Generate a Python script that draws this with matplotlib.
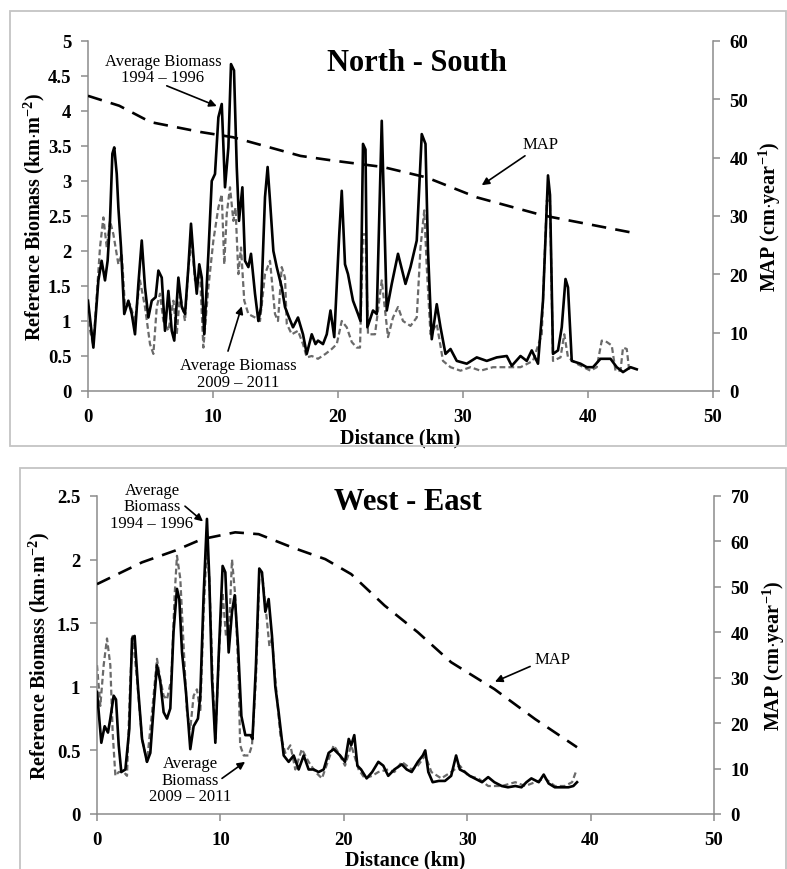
import matplotlib
matplotlib.use("Agg")
import matplotlib.pyplot as plt
from matplotlib.patches import Rectangle

plt.rcParams['font.family'] = ['Liberation Serif', 'DejaVu Serif']
plt.rcParams['mathtext.fontset'] = 'custom'
plt.rcParams['mathtext.rm'] = 'Liberation Serif'
plt.rcParams['mathtext.bf'] = 'Liberation Serif:bold'

# North - South transect
ns_dist_old = [0, 0.43, 0.83, 1.09, 1.36, 1.57, 1.76, 1.95, 2.1, 2.3,
               2.43, 2.64, 2.9, 3.23, 3.5, 3.76, 4.03, 4.3, 4.56, 4.83,
               5.1, 5.41, 5.63, 5.9, 6.16, 6.43, 6.7, 6.9, 7.23, 7.5,
               7.76, 8.03, 8.24, 8.5, 8.7, 8.9, 9.1, 9.3, 9.63, 9.9,
               10.16, 10.43, 10.7, 10.96, 11.23, 11.44, 11.68, 11.9, 12.08, 12.35,
               12.56, 12.83, 13.04, 13.36, 13.63, 13.84, 14.16, 14.37, 14.56, 14.83,
               15.1, 15.5, 15.76, 16.08, 16.4, 16.8, 17.2, 17.5, 17.9, 18.2,
               18.4, 18.8, 19.1, 19.4, 19.7, 20.1, 20.3, 20.56, 20.8, 21.2,
               21.6, 21.8, 22.0, 22.2, 22.35, 22.8, 23.1, 23.5, 23.9, 24.3,
               24.8, 25.4, 25.8, 26.3, 26.7, 27.0, 27.2, 27.5, 27.9, 28.2,
               28.6, 29.0, 29.5, 30.3, 31.1, 31.9, 32.7, 33.5, 33.9, 34.6,
               35.1, 35.5, 36.0, 36.4, 36.8, 36.96, 37.2, 37.6, 37.9, 38.2,
               38.4, 38.7, 39.4, 39.9, 40.4, 41.0, 41.8, 42.3, 42.8, 43.4,
               43.9]
ns_bio_old = [1.29, 0.62, 1.58, 1.86, 1.58, 1.86, 2.43, 3.39, 3.48, 3.1,
              2.62, 2.05, 1.1, 1.29, 1.1, 0.81, 1.53, 2.15, 1.48, 1.05,
              1.29, 1.34, 1.72, 1.62, 0.86, 1.43, 0.86, 0.72, 1.62, 1.2,
              1.1, 1.77, 2.39, 1.77, 1.39, 1.81, 1.62, 0.81, 1.96, 3.0,
              3.1, 3.91, 4.1, 2.91, 3.48, 4.67, 4.58, 3.2, 2.43, 2.91,
              1.86, 1.77, 1.96, 1.39, 1.0, 1.2, 2.77, 3.2, 2.72, 2.0,
              1.77, 1.48, 1.2, 1.05, 0.91, 1.05, 0.81, 0.53, 0.81, 0.67,
              0.72, 0.67, 0.81, 1.15, 0.77, 2.24, 2.86, 1.81, 1.67, 1.29,
              1.1, 1.0, 3.53, 3.45, 0.91, 1.15, 1.1, 3.86, 1.15, 1.53,
              1.96, 1.53, 1.77, 2.15, 3.67, 3.53, 2.0, 0.74, 1.24, 0.91,
              0.53, 0.6, 0.43, 0.39, 0.48, 0.43, 0.48, 0.5, 0.36, 0.5,
              0.43, 0.58, 0.39, 1.29, 3.08, 2.8, 0.53, 0.58, 0.91, 1.6,
              1.48, 0.43, 0.39, 0.34, 0.34, 0.46, 0.46, 0.34, 0.27, 0.34,
              0.31]

ns_dist_new = [0, 0.43, 0.96, 1.23, 1.5, 1.76, 2.03, 2.43, 2.7, 2.96,
               3.36, 3.76, 4.16, 4.56, 4.96, 5.23, 5.5, 5.76, 6.03, 6.43,
               6.83, 7.1, 7.36, 7.76, 8.03, 8.3, 8.56, 8.96, 9.23, 9.63,
               10.03, 10.43, 10.7, 10.9, 11.1, 11.36, 11.63, 11.8, 12.03, 12.24,
               12.5, 12.83, 13.36, 13.76, 14.16, 14.56, 14.96, 15.2, 15.5, 15.76,
               15.9, 16.3, 16.8, 17.2, 17.5, 17.9, 18.4, 19.0, 19.5, 19.9,
               20.3, 20.7, 21.1, 21.5, 21.76, 22.0, 22.2, 22.4, 22.96, 23.5,
               24.0, 24.4, 24.8, 25.2, 25.8, 26.3, 26.6, 26.9, 27.1, 27.4,
               27.9, 28.4, 29.0, 29.8, 30.6, 31.4, 32.4, 33.5, 34.6, 35.6,
               36.3, 36.7, 36.96, 37.2, 37.8, 38.1, 38.4, 39.1, 40.2, 40.7,
               41.1, 41.5, 41.9, 42.2, 42.6, 42.8, 43.1, 43.3]
ns_bio_new = [1.0, 0.65, 2.05, 2.48, 2.05, 2.43, 2.24, 1.81, 1.96, 1.2,
              1.24, 1.0, 1.58, 1.2, 0.67, 0.53, 1.2, 1.39, 1.0, 0.86,
              1.29, 0.81, 1.39, 1.0, 1.77, 2.15, 1.58, 1.67, 0.62, 1.48,
              2.15, 2.62, 2.81, 1.81, 2.53, 2.91, 2.43, 2.62, 1.67, 2.05,
              1.29, 1.1, 1.05, 1.0, 1.67, 1.86, 1.1, 1.0, 1.77, 1.62,
              0.96, 0.81, 0.86, 0.67, 0.48, 0.5, 0.46, 0.53, 0.6, 0.67,
              1.0, 0.91, 0.7, 0.62, 0.62, 2.24, 2.24, 0.81, 0.81, 1.58,
              0.77, 1.05, 1.2, 1.0, 0.93, 1.05, 2.05, 2.58, 1.77, 0.81,
              0.96, 0.43, 0.34, 0.29, 0.34, 0.29, 0.34, 0.34, 0.34, 0.43,
              0.81, 2.72, 2.72, 0.43, 0.48, 0.81, 0.48, 0.39, 0.29, 0.34,
              0.72, 0.7, 0.65, 0.29, 0.29, 0.62, 0.6, 0.29]

ns_map_dist = [0, 2.5, 5, 9, 11.6, 17, 19.6, 23.6, 27.1, 31.1, 36.4, 43.4]
ns_map = [50.6, 48.9, 46.1, 44.4, 43.5, 40.3, 39.5, 38.4, 36.6, 33.2, 30.1, 27.2]

# West - East transect
we_dist_old = [0, 0.35, 0.62, 0.89, 1.08, 1.35, 1.54, 1.76, 1.97, 2.3,
               2.62, 2.84, 3.05, 3.32, 3.65, 4.05, 4.32, 4.6, 4.86, 5.13,
               5.4, 5.67, 5.94, 6.2, 6.48, 6.67, 6.89, 7.21, 7.56, 7.83,
               8.18, 8.37, 8.64, 8.91, 9.1, 9.32, 9.59, 9.86, 10.18, 10.4,
               10.67, 10.94, 11.16, 11.43, 11.7, 12.02, 12.43, 12.6, 12.88, 13.15,
               13.37, 13.64, 13.91, 14.18, 14.45, 14.72, 15.13, 15.53, 15.94, 16.34,
               16.75, 17.15, 17.56, 17.96, 18.37, 18.77, 19.18, 19.7, 20.1, 20.4,
               20.6, 20.85, 21.1, 21.4, 21.85, 22.3, 22.8, 23.2, 23.6, 24.1,
               24.7, 25.1, 25.5, 26.0, 26.4, 26.6, 26.85, 27.2, 27.7, 28.2,
               28.7, 29.1, 29.4, 29.8, 30.2, 30.6, 31.2, 31.7, 32.2, 32.8,
               33.3, 33.9, 34.4, 34.8, 35.2, 35.8, 36.2, 36.6, 37.1, 37.7,
               38.2, 38.6, 38.9]
we_bio_old = [0.96, 0.56, 0.69, 0.64, 0.75, 0.93, 0.9, 0.54, 0.33, 0.35,
              0.67, 1.38, 1.4, 1.0, 0.59, 0.41, 0.48, 0.85, 1.17, 1.04,
              0.8, 0.75, 0.83, 1.43, 1.77, 1.69, 1.27, 0.96, 0.51, 0.69,
              0.75, 0.93, 1.72, 2.32, 1.85, 1.06, 0.56, 1.24, 1.95, 1.9,
              1.27, 1.59, 1.72, 1.32, 0.77, 0.62, 0.62, 0.59, 1.17, 1.93,
              1.9, 1.59, 1.69, 1.4, 1.0, 0.8, 0.46, 0.41, 0.46, 0.35,
              0.46, 0.35, 0.35, 0.33, 0.35, 0.48, 0.51, 0.46, 0.41, 0.59,
              0.54, 0.62, 0.38, 0.35, 0.28, 0.33, 0.41, 0.38, 0.3, 0.35,
              0.39, 0.35, 0.33, 0.41, 0.46, 0.5, 0.33, 0.25, 0.26, 0.26,
              0.3, 0.46, 0.35, 0.33, 0.3, 0.28, 0.25, 0.29, 0.25, 0.22,
              0.21, 0.22, 0.21, 0.25, 0.28, 0.25, 0.31, 0.24, 0.21, 0.21,
              0.21, 0.22, 0.25]

we_dist_new = [0, 0.27, 0.54, 0.81, 1.08, 1.27, 1.49, 1.76, 2.16, 2.43,
               2.7, 2.89, 3.24, 3.65, 4.05, 4.46, 4.86, 5.13, 5.4, 5.67,
               6.02, 6.29, 6.48, 6.75, 7.02, 7.29, 7.56, 7.83, 8.1, 8.37,
               8.64, 8.91, 9.1, 9.37, 9.59, 9.91, 10.18, 10.45, 10.67, 10.94,
               11.2, 11.48, 11.6, 11.89, 12.3, 12.56, 12.88, 13.15, 13.42, 13.7,
               13.97, 14.18, 14.45, 14.86, 15.26, 15.67, 16.07, 16.6, 17.15, 17.7,
               18.23, 18.77, 19.18, 19.58, 20.1, 20.6, 21.2, 21.7, 22.3, 22.8,
               23.6, 24.1, 24.7, 25.5, 26.0, 26.6, 27.1, 27.9, 28.7, 29.4,
               30.1, 30.9, 31.7, 32.8, 33.9, 34.7, 35.5, 36.3, 37.1, 37.9,
               38.5, 38.8]
we_bio_new = [1.17, 0.85, 1.17, 1.38, 1.17, 0.64, 0.3, 0.33, 0.33, 0.3,
              1.06, 1.4, 1.06, 0.59, 0.41, 0.8, 1.22, 1.06, 0.93, 0.9,
              1.06, 1.72, 2.03, 1.85, 1.32, 0.8, 0.67, 0.93, 0.98, 0.8,
              1.59, 2.11, 1.85, 1.06, 0.59, 1.32, 1.74, 1.4, 1.38, 2.0,
              1.72, 1.06, 0.54, 0.46, 0.46, 0.54, 1.06, 1.85, 1.85, 1.59,
              1.32, 1.38, 1.06, 0.62, 0.48, 0.54, 0.35, 0.51, 0.41, 0.33,
              0.28, 0.43, 0.54, 0.48, 0.38, 0.54, 0.35, 0.28, 0.3, 0.33,
              0.35, 0.33, 0.41, 0.35, 0.38, 0.46, 0.33, 0.28, 0.33, 0.38,
              0.3, 0.28, 0.22, 0.22, 0.25, 0.22, 0.25, 0.28, 0.22, 0.22,
              0.25, 0.33]

we_map_dist = [0, 3.65, 6.35, 8.5, 11.2, 13.1, 15.8, 18.5, 20.6, 23.3, 26.0, 28.7, 32.2, 35.5, 38.9]
we_map = [50.6, 55.4, 58.0, 60.5, 62.0, 61.6, 58.7, 56.1, 52.8, 45.9, 40.0, 33.4, 27.5, 20.9, 14.7]

x_ticks = [0, 10, 20, 30, 40, 50]
GRAY = '#8c8c8c'
W, H = 787, 870

fig = plt.figure(figsize=(7.87, 8.70), dpi=100)

# light frames around each chart
fig.patches.append(Rectangle((10 / W, 1 - 447 / H), 776 / W, 435 / H, transform=fig.transFigure,
                             fill=False, ec='#c4c4c4', lw=1.3))
fig.patches.append(Rectangle((20 / W, -0.02), 766 / W, 1 - 469 / H + 0.02, transform=fig.transFigure,
                             fill=False, ec='#c4c4c4', lw=1.3))


def panel(rect, d_old, b_old, d_new, b_new, d_map, v_map, ymax, map_max, yticks, ylab_x, rlab_x, xlab_y):
    ax = fig.add_axes(rect)
    ax2 = ax.twinx()
    ax.plot(d_new, b_new, color='#6a6a6a', lw=1.6, ls=(0, (2.6, 1.4)), zorder=2)
    ax.plot(d_old, b_old, color='black', lw=1.9, zorder=3)
    ax2.plot(d_map, v_map, color='black', lw=1.9, ls=(0, (5.5, 3.5)))
    ax.set_xlim(0, 50)
    ax.set_ylim(0, ymax)
    ax2.set_ylim(0, map_max)
    ax.set_xticks(x_ticks)
    ax.set_yticks(yticks)
    ax.set_yticklabels([('%g' % t) for t in yticks])
    ax2.set_yticks(range(0, map_max + 1, 10))
    for a in (ax, ax2):
        a.set_facecolor('none')
        for s in a.spines.values():
            s.set_color(GRAY)
            s.set_linewidth(1.1)
        a.spines['top'].set_visible(False)
        a.tick_params(colors=GRAY, labelcolor='black', length=5, width=1.1, labelsize=13.5, pad=7)
        for lab in a.get_xticklabels() + a.get_yticklabels():
            lab.set_fontweight('bold')
    ax.spines['right'].set_visible(False)
    ax2.spines['left'].set_visible(False)
    ax2.spines['bottom'].set_visible(False)
    ax.set_xlabel('Distance (km)', fontsize=14.5, fontweight='bold')
    ax.xaxis.set_label_coords(0.5, xlab_y)
    ax.set_ylabel(r'Reference Biomass (km$\cdot$m$^{\mathbf{-2}}$)', fontsize=14.5, fontweight='bold')
    ax.yaxis.set_label_coords(ylab_x, 0.5)
    ax2.set_ylabel(r'MAP (cm$\cdot$year$^{\mathbf{-1}}$)', fontsize=14.5, fontweight='bold',
                   rotation=90, va='center')
    ax2.yaxis.set_label_coords(rlab_x, 0.5)
    return ax


def note(ax, text, xy_text, tail, head):
    ax.text(xy_text[0], xy_text[1], text, ha='center', va='center', fontsize=12, linespacing=1.05)
    ax.annotate('', xy=head, xytext=tail,
                arrowprops=dict(arrowstyle='-|>', color='black', lw=1.2, mutation_scale=11,
                                shrinkA=0, shrinkB=0))


ax_ns = panel([88 / W, 1 - 392 / H, 625 / W, 350 / H], ns_dist_old, ns_bio_old, ns_dist_new, ns_bio_new,
              ns_map_dist, ns_map, 5, 60, [0, 0.5, 1, 1.5, 2, 2.5, 3, 3.5, 4, 4.5, 5],
              -0.066, 1.091, -0.103)
ax_ns.text(26.3, 4.69, 'North - South', ha='center', va='center', fontsize=22, fontweight='bold')
note(ax_ns, 'Average Biomass\n1994 – 1996', (6.0, 4.6), (6.3, 4.36), (10.3, 4.07))
note(ax_ns, 'Average Biomass\n2009 – 2011', (12.0, 0.25), (11.2, 0.57), (12.3, 1.21))
note(ax_ns, 'MAP', (36.2, 3.53), (34.96, 3.36), (31.5, 2.94))

ax_we = panel([97 / W, 1 - 815 / H, 617 / W, 318 / H], we_dist_old, we_bio_old, we_dist_new, we_bio_new,
              we_map_dist, we_map, 2.5, 70, [0, 0.5, 1, 1.5, 2, 2.5],
              -0.073, 1.096, -0.113)
ax_we.text(25.2, 2.46, 'West - East', ha='center', va='center', fontsize=22, fontweight='bold')
note(ax_we, 'Average\nBiomass\n1994 – 1996', (4.46, 2.42), (7.13, 2.42), (8.59, 2.30))
note(ax_we, 'Average\nBiomass\n2009 – 2011', (7.54, 0.27), (10.13, 0.28), (12.0, 0.41))
note(ax_we, 'MAP', (36.95, 1.22), (35.1, 1.16), (32.25, 1.04))

fig.savefig('out.png', dpi=100)
